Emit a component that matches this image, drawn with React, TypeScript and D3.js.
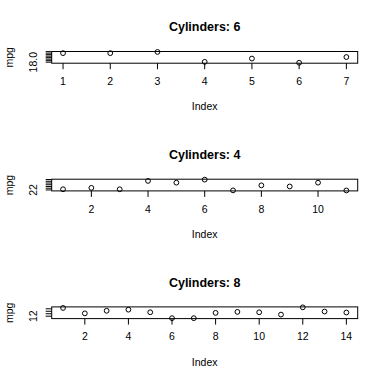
import React from "react";
import * as d3 from "d3";

const titles = ["Cylinders: 6", "Cylinders: 4", "Cylinders: 8"];
const mpg6 = [21.0, 21.0, 21.4, 18.1, 19.2, 17.8, 19.7];
const mpg4 = [22.8, 24.4, 22.8, 32.4, 30.4, 33.9, 21.5, 27.3, 26.0, 30.4, 21.4];
const mpg8 = [18.7, 14.3, 16.4, 17.3, 15.2, 10.4, 10.4, 14.7, 15.5, 15.2, 13.3, 19.2, 15.8, 15.0];
const xTicks6 = [1, 2, 3, 4, 5, 6, 7];
const xTicks4 = [2, 4, 6, 8, 10];
const xTicks8 = [2, 4, 6, 8, 10, 12, 14];
const yTicks6 = [18, 18.5, 19, 19.5, 20, 20.5, 21, 21.5];
const yTicks4 = [22, 24, 26, 28, 30, 32, 34];
const yTicks8 = [12, 14, 16, 18];
const yLabels6 = ["18.0"];
const yLabels4 = ["22"];
const yLabels8 = ["12"];

const panels = [
  { title: titles[0], data: mpg6, xt: xTicks6, yt: yTicks6, yl: yLabels6, top: 51.5, bottom: 63.2 },
  { title: titles[1], data: mpg4, xt: xTicks4, yt: yTicks4, yl: yLabels4, top: 179.2, bottom: 190.9 },
  { title: titles[2], data: mpg8, xt: xTicks8, yt: yTicks8, yl: yLabels8, top: 306.9, bottom: 318.6 },
];

const L = 51.7;
const R = 357.7;
const font = "Liberation Sans, Arial, sans-serif";

function Panel({ p }: { p: (typeof panels)[number] }) {
  const n = p.data.length;
  const padX = (n - 1) * 0.04;
  const x = d3.scaleLinear().domain([1 - padX, n + padX]).range([L, R]);
  const [mn, mx] = d3.extent(p.data) as [number, number];
  const padY = (mx - mn) * 0.04;
  const y = d3.scaleLinear().domain([mn - padY, mx + padY]).range([p.bottom, p.top]);
  const cy = (p.top + p.bottom) / 2;
  return (
    <g>
      <text x={(L + R) / 2} y={p.top - 23.5} textAnchor="middle" dominantBaseline="middle"
        fontFamily={font} fontWeight="bold" fontSize={12.5}>{p.title}</text>
      <rect x={L} y={p.top} width={R - L} height={p.bottom - p.top} fill="none" stroke="#000" strokeWidth={1} />
      {p.data.map((v, i) => (
        <circle key={i} cx={x(i + 1)} cy={y(v)} r={2.4} fill="none" stroke="#000" strokeWidth={1} />
      ))}
      {p.xt.map((t) => (
        <g key={t}>
          <line x1={x(t)} x2={x(t)} y1={p.bottom} y2={p.bottom + 6} stroke="#000" />
          <text x={x(t)} y={p.bottom + 19} textAnchor="middle" dominantBaseline="middle"
            fontFamily={font} fontSize={10.5}>{t}</text>
        </g>
      ))}
      {p.yt.map((t) => (
        <line key={t} x1={L - 6} x2={L} y1={y(t)} y2={y(t)} stroke="#000" />
      ))}
      {p.yl.map((lab, i) => (
        <text key={i} transform={`translate(34,${y(p.yt[i])}) rotate(-90)`} textAnchor="middle"
          dominantBaseline="middle" fontFamily={font} fontSize={10.5}>{lab}</text>
      ))}
      <text transform={`translate(10,${cy}) rotate(-90)`} textAnchor="middle" dominantBaseline="middle"
        fontFamily={font} fontSize={10.5}>mpg</text>
      <text x={(L + R) / 2} y={p.bottom + 44.5} textAnchor="middle" dominantBaseline="middle"
        fontFamily={font} fontSize={10.5}>Index</text>
    </g>
  );
}

export default function App() {
  return (
    <svg width={384} height={383} style={{ position: "absolute", left: 0, top: 0, background: "#fff" }}>
      <rect width={384} height={383} fill="#fff" />
      {panels.map((p, i) => (
        <Panel key={i} p={p} />
      ))}
    </svg>
  );
}
